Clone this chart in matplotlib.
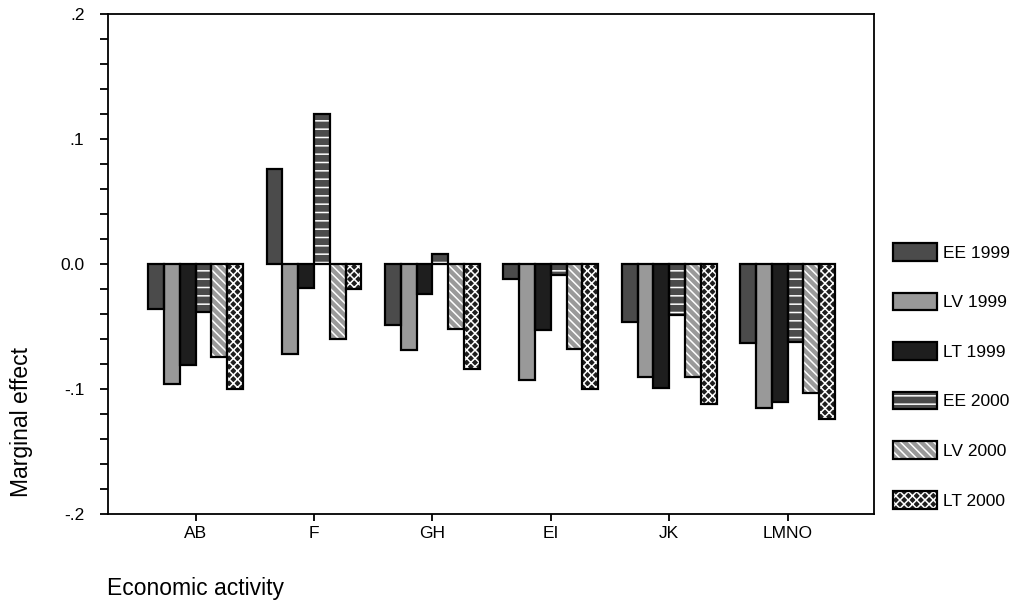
import matplotlib
matplotlib.use("Agg")
import matplotlib.pyplot as plt
import numpy as np
from matplotlib.legend_handler import HandlerTuple

plt.rcParams['font.family'] = ['Liberation Sans', 'DejaVu Sans']
plt.rcParams['hatch.linewidth'] = 1.1

categories = ["AB", "F", "GH", "EI", "JK", "LMNO"]
series_names = ["EE 1999", "LV 1999", "LT 1999", "EE 2000", "LV 2000", "LT 2000"]

ee_1999 = [-0.036, 0.076, -0.049, -0.012, -0.046, -0.063]
lv_1999 = [-0.096, -0.072, -0.069, -0.093, -0.090, -0.115]
lt_1999 = [-0.081, -0.019, -0.024, -0.053, -0.099, -0.110]
ee_2000 = [-0.038, 0.120, 0.008, -0.009, -0.041, -0.062]
lv_2000 = [-0.074, -0.060, -0.052, -0.068, -0.090, -0.103]
lt_2000 = [-0.100, -0.020, -0.084, -0.100, -0.112, -0.124]

series_values = [ee_1999, lv_1999, lt_1999, ee_2000, lv_2000, lt_2000]
face_colors = ["#4b4b4b", "#999999", "#1e1e1e", "#4b4b4b", "#9a9a9a", "#1e1e1e"]
hatches = [None, None, None, "--", "\\\\\\\\", "xxxx"]

ytick_vals = [-0.2, -0.1, 0.0, 0.1, 0.2]
ytick_labels = ["-.2", "-.1", "0.0", ".1", ".2"]

fig = plt.figure(figsize=(10.17, 6.03), dpi=100)
ax = fig.add_axes([108/1017, 1-514/603, (874-108)/1017, (514-14)/603])

x = np.arange(len(categories))
n = len(series_values)
w = 0.8 / n
handles = []
for i, (vals, fc, h) in enumerate(zip(series_values, face_colors, hatches)):
    pos = x - 0.4 + w * (i + 0.5)
    b1 = ax.bar(pos, vals, width=w, color=fc, hatch=h, edgecolor="white",
                linewidth=0, zorder=2)
    b2 = ax.bar(pos, vals, width=w, facecolor="none", edgecolor="black",
                linewidth=1.6, zorder=3)
    handles.append((b1[0], b2[0]))

ax.set_xlim(-0.74, 5.73)
ax.set_ylim(-0.2, 0.2)
ax.set_xticks(x)
ax.set_xticklabels(categories, fontsize=12.5)
ax.set_yticks(ytick_vals)
ax.set_yticklabels(ytick_labels, fontsize=12.5)
ax.set_yticks(np.arange(-0.2, 0.2001, 0.02), minor=True)
ax.tick_params(axis='y', which='both', direction='out', length=6, width=1.3, pad=11)
ax.tick_params(axis='x', which='major', direction='out', length=5, width=1.3, pad=4)
for s in ax.spines.values():
    s.set_linewidth(1.3)

fig.text(22/1017, 1-422/603, "Marginal effect", rotation=90, ha='center', va='center',
         fontsize=16.5)
fig.text(107/1017, 1-588/603, "Economic activity", ha='left', va='center', fontsize=16.5)

fig.legend(handles, series_names, loc='upper left',
           bbox_to_anchor=(893/1017, 1-243/603), frameon=False,
           handler_map={tuple: HandlerTuple(ndivide=1, pad=0)},
           handlelength=2.55, handleheight=1.18, labelspacing=1.84,
           handletextpad=0.35, borderpad=0, borderaxespad=0, fontsize=12.5)

fig.savefig("out.png", dpi=100)
